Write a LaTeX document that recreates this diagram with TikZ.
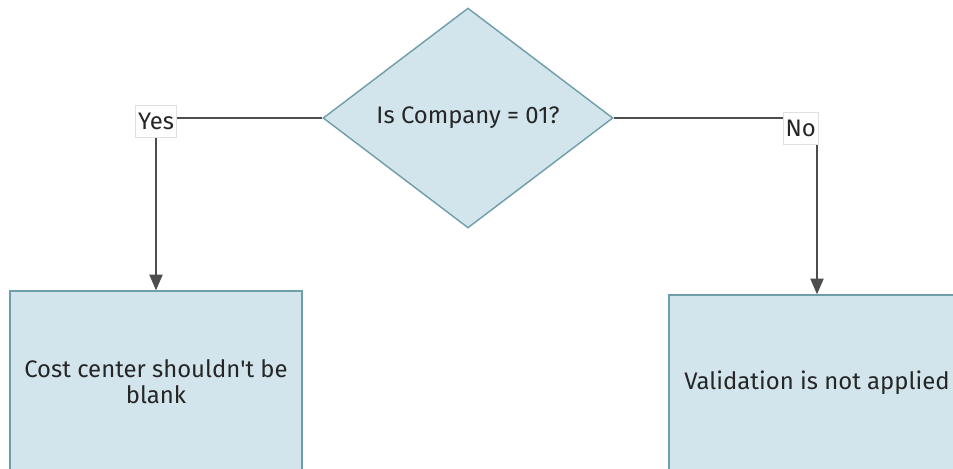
\documentclass[tikz,border=0pt]{standalone}
\usepackage{fontspec}
\setmainfont{Fira Sans}
\usetikzlibrary{shapes.geometric,arrows.meta}
\definecolor{boxfill}{HTML}{D2E5EC}
\definecolor{boxline}{HTML}{6F9DA8}
\definecolor{wire}{HTML}{4D4D4D}
\begin{document}
\begin{tikzpicture}[x=0.02cm,y=-0.02cm,>={Triangle[length=9pt,width=7.5pt]},
  txt/.style={font=\fontsize{13.6}{14.7}\selectfont,text=black!85},
  decision/.style={txt,diamond,draw=boxline,fill=boxfill,line width=0.8pt,inner sep=0pt,
    aspect=1.32,minimum width=5.8cm,minimum height=4.4cm},
  result/.style={txt,rectangle,draw=boxline,fill=boxfill,line width=0.8pt,align=center},
  lbl/.style={txt,fill=white,draw=black!12,line width=0.4pt,inner xsep=1.5pt,minimum height=0.64cm},
  wire/.style={draw=wire,line width=1pt}]
  \clip (0,0) rectangle (953,468);
  \fill[white] (0,0) rectangle (953,468);

  % Question
  \node[decision] (company) at (468,118) {Is Company = 01?};

  % Outcomes
  \node[result,minimum width=5.84cm,minimum height=3.64cm] (blankcheck) at (156,382)
    {Cost center shouldn\textquotesingle t be\\blank};
  \node[result,minimum width=5.92cm,minimum height=3.52cm] (novalid) at (817,383)
    {Validation is not applied};

  % Branches
  \draw[wire,->] (company.west) -| (blankcheck.north)
    node[lbl,pos=0.5,yshift=-0.06cm] (yes) {Yes};
  \draw[wire,->] (company.east) -| (novalid.north)
    node[lbl,pos=0.5,anchor=north east,xshift=1pt,yshift=0.12cm] (no) {No};
\end{tikzpicture}
\end{document}
